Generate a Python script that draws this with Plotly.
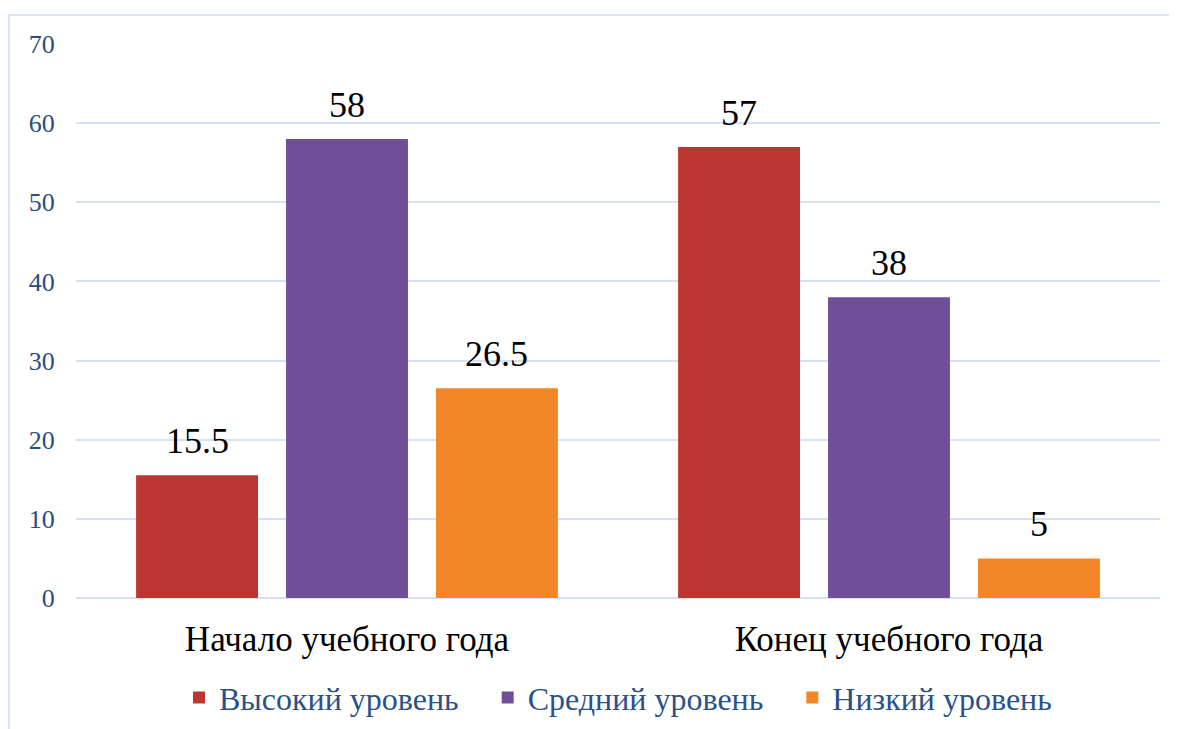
import plotly.graph_objects as go

categories = ["Начало учебного года", "Конец учебного года"]
series_names = ["Высокий уровень", "Средний уровень", "Низкий уровень"]
high = [15.5, 57]
mid = [58, 38]
low = [26.5, 5]
y_ticks = [0, 10, 20, 30, 40, 50, 60, 70]

colors = ["#BD3632", "#714F98", "#F38727"]
series_values = [high, mid, low]

SERIF = "Liberation Serif"
BARGAP = 0.17
BARGROUPGAP = 0.187

fig = go.Figure()
for k, (name, vals, col) in enumerate(zip(series_names, series_values, colors)):
    pad = "&nbsp;" * 3 if k < len(series_names) - 1 else ""
    fig.add_trace(go.Bar(
        x=categories, y=vals, name=name + pad,
        marker=dict(color=col, line=dict(width=0)),
    ))

# data labels above bars, positioned from the grouped-bar geometry
n = len(series_values)
slot = (1 - BARGAP) / n
for t, vals in enumerate(series_values):
    for i, v in enumerate(vals):
        fig.add_annotation(
            x=i + (t - (n - 1) / 2) * slot, y=v, xref="x", yref="y",
            text=f"{v:g}", showarrow=False, yanchor="bottom", yshift=12,
            font=dict(family=SERIF, size=36, color="#000000"),
        )

fig.add_shape(type="rect", xref="paper", yref="paper",
              x0=-0.0618, x1=1.05, y0=-0.4, y1=1.0523,
              line=dict(color="#DAE5F5", width=2), fillcolor="rgba(0,0,0,0)",
              layer="below")

fig.update_layout(
    width=1177, height=729,
    margin=dict(l=68, r=25, t=36, b=139),
    paper_bgcolor="white", plot_bgcolor="white",
    barmode="group", bargap=BARGAP, bargroupgap=BARGROUPGAP,
    font=dict(family=SERIF),
    showlegend=True,
    legend=dict(orientation="h", x=0.5, xanchor="center",
                y=-0.18, yanchor="middle",
                font=dict(family=SERIF, size=32, color="#2A5189"),
                traceorder="normal"),
)
fig.update_xaxes(
    type="category", showgrid=False, showline=False, zeroline=False,
    ticks="outside", ticklen=10, tickcolor="rgba(0,0,0,0)",
    tickfont=dict(family=SERIF, size=35, color="#000000"),
)
fig.update_yaxes(
    range=[0, 70], tickvals=y_ticks, showgrid=True, gridcolor="#D6E2F3", gridwidth=2,
    zeroline=True, zerolinecolor="#D6E2F3", zerolinewidth=2, showline=False,
    ticks="outside", ticklen=15, tickcolor="rgba(0,0,0,0)",
    tickfont=dict(family=SERIF, size=26, color="#264E83"),
)

# make sure the serif face is resolved, then redraw so all texts pick it up
post = (
    "var gd=document.getElementById('{plot_id}');"
    "var s=document.createElement('style');"
    "s.textContent='.js-plotly-plot svg text{font-family:\"Liberation Serif\",\"Times New Roman\",serif !important;}';"
    "document.head.appendChild(s);"
    "function rr(){try{Plotly.react(gd,gd.data,gd.layout);}catch(e){}}"
    "if(document.fonts&&document.fonts.load){document.fonts.load('30px \"Liberation Serif\"','Начало 15.5').then(rr,rr);}"
    "setTimeout(rr,150);setTimeout(rr,600);"
)
fig.write_html("out.html", post_script=post)
